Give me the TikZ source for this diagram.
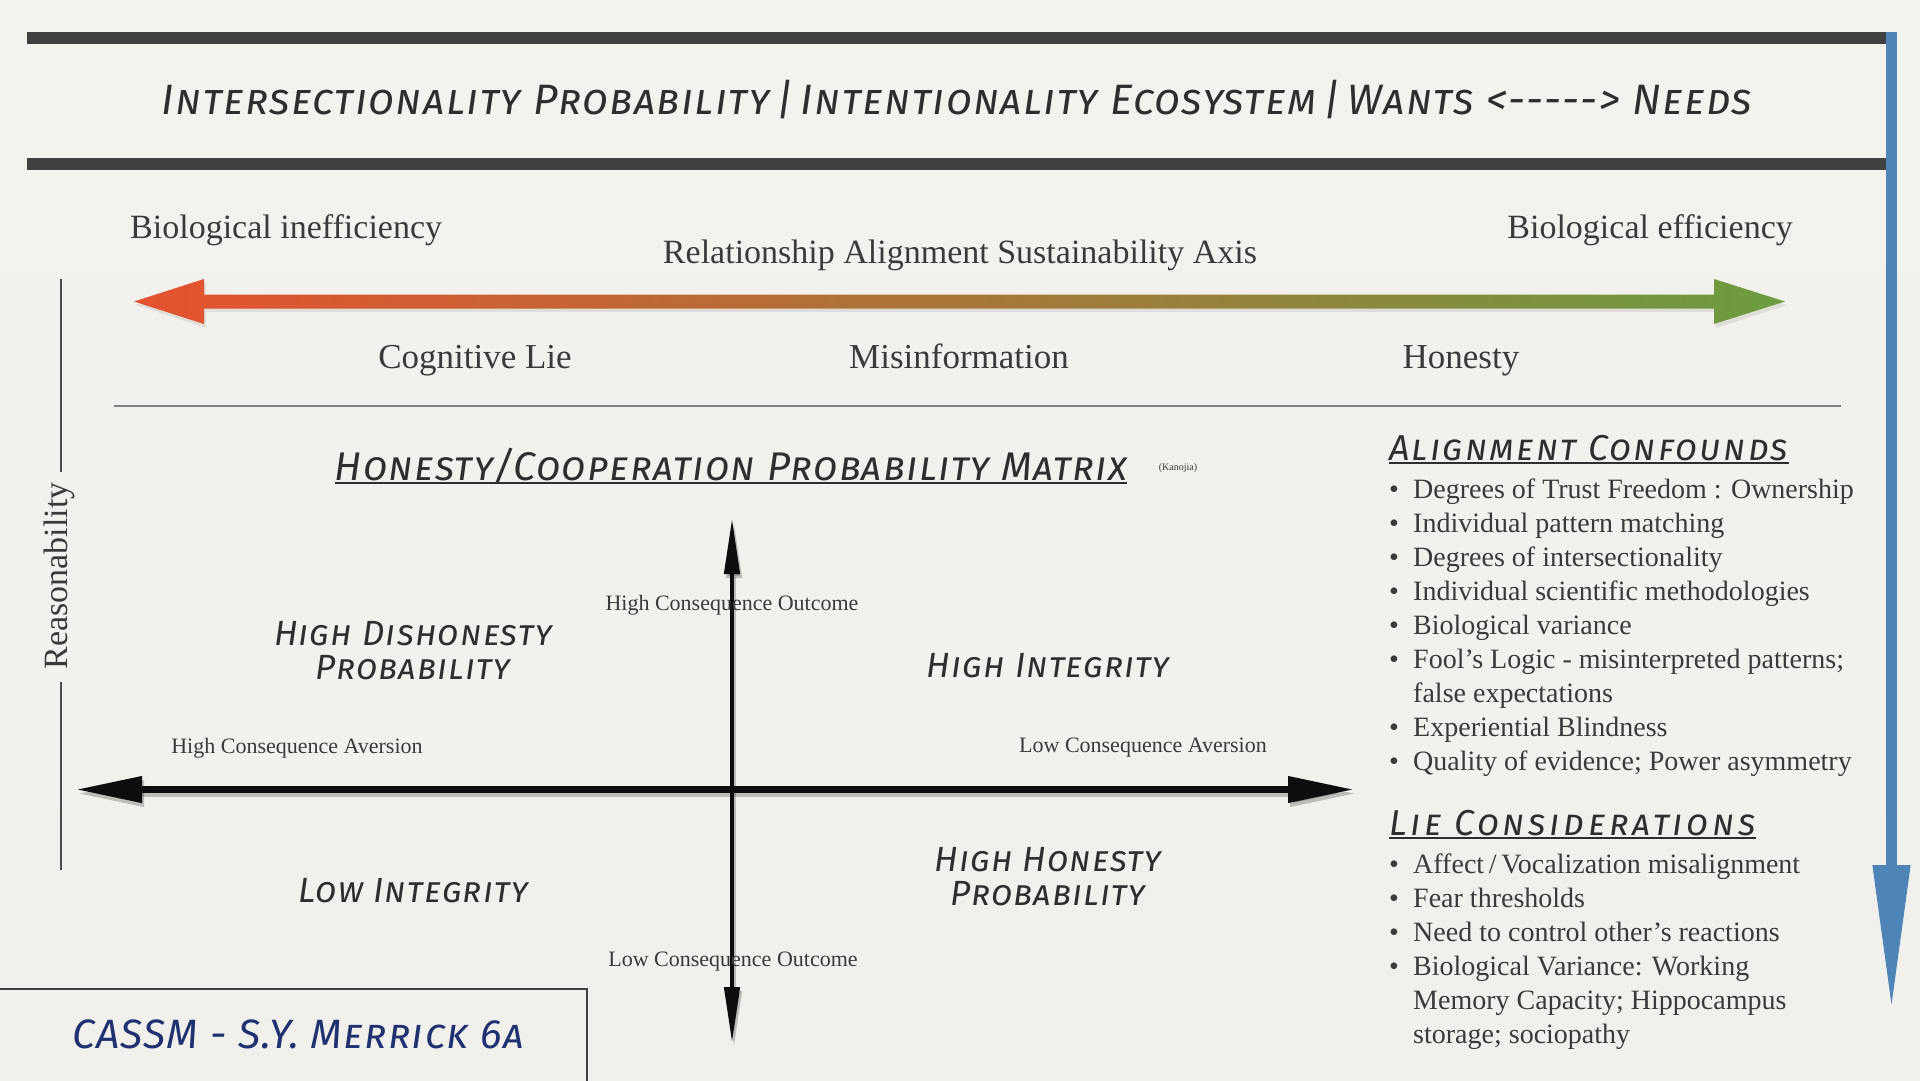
\documentclass[tikz,border=0pt]{standalone}
\usepackage{fontspec}
\setmainfont{Liberation Serif}
\newfontfamily\hand{Fira Sans}[Letters=SmallCaps,LetterSpace=3]
\newfontfamily\handwide{Fira Sans}[Letters=SmallCaps,LetterSpace=6]
\newfontfamily\handwider{Fira Sans}[Letters=SmallCaps,LetterSpace=10]
\usetikzlibrary{arrows.meta}
\definecolor{txt}{HTML}{3A3A3A}
\definecolor{hnd}{HTML}{2E2E2E}
\definecolor{barc}{HTML}{404040}
\definecolor{navy}{HTML}{1F3170}
\definecolor{blu}{HTML}{4F85B6}
\definecolor{bgA}{HTML}{F3F2EE}
\definecolor{bgB}{HTML}{E7E7E5}
\definecolor{bgC}{HTML}{F1F0EC}
\definecolor{grL}{HTML}{E5512F}
\definecolor{grM}{HTML}{A97A3A}
\definecolor{grR}{HTML}{6C9C40}
\tikzset{
  lbl/.style={font=\fontsize{34}{40}\selectfont, text=txt, inner sep=0pt},
  lblb/.style={font=\fontsize{35}{40}\selectfont, text=txt, inner sep=0pt, anchor=base},
  small/.style={font=\fontsize{22}{26}\selectfont, text=txt, inner sep=0pt},
  item/.style={font=\fontsize{28}{34}\selectfont, text=txt, inner sep=0pt, anchor=west, text height=20pt, text depth=7pt},
  hw/.style={font=\hand\itshape\fontsize{35}{34}\selectfont, text=hnd, inner sep=0pt, align=center},
  hwhead/.style={font=\handwide\itshape\fontsize{36}{36}\selectfont, text=hnd, inner xsep=0pt, inner ysep=2pt, text depth=0pt},
  uline/.style={draw=hnd, line width=2pt},
  blackarrow/.style={draw=black!95, line width=#1},
  shadowarrow/.style={draw=black, opacity=0.22, line width=#1, transform canvas={xshift=2pt,yshift=-4pt}},
  thinrule/.style={draw=black!50, line width=1.5pt},
  sideline/.style={draw=black!70, line width=1.5pt},
}
\begin{document}
\begin{tikzpicture}[x=1pt,y=-1pt]
\useasboundingbox (0,0) rectangle (1920,1080);
\shade[top color=bgA, middle color=bgB, bottom color=bgC] (0,0) rectangle (1920,1080);

% header bars
\fill[barc] (27,32) rectangle (1886,44);
\fill[barc] (27,158) rectangle (1886,170);

% blue vertical arrow
\coordinate (bt) at (1891.5,32);
\coordinate (bb) at (1891.5,1010);
\draw[draw=blu, line width=11pt, -{Triangle[length=145pt,width=35pt]}] (bt) -- (bb);

% title
\node[font=\hand\itshape\fontsize{42.5}{44}\selectfont, text=hnd, inner sep=0pt] (title) at (957,100)
  {Intersectionality Probability\,|\,Intentionality Ecosystem\,|\,Wants <{-}{-}{-}{-}{-}> Needs};

% axis labels
\node[lbl, anchor=west] (binef) at (130,230) {Biological inefficiency};
\node[lbl, anchor=east] (beff) at (1793,230) {Biological efficiency};
\node[lbl] (rasa) at (960,255) {Relationship Alignment Sustainability Axis};

% gradient arrow (soft shadow, then body)
\fill[black, opacity=0.08] (136,305) -- (206,283) -- (206,298) -- (1716,298) -- (1716,283) -- (1787,305)
  -- (1716,328) -- (1716,312) -- (206,312) -- (206,328) -- cycle;
\shade[left color=grL, middle color=grM, right color=grR]
  (134,301.5) -- (204,279) -- (204,294.5) -- (1714,294.5) -- (1714,279) -- (1785,301.5)
  -- (1714,324) -- (1714,308.5) -- (204,308.5) -- (204,324) -- cycle;

\node[lblb] (cog) at (475,368) {Cognitive Lie};
\node[lblb] (mis) at (959,368) {Misinformation};
\node[lblb] (hon) at (1461,368) {Honesty};

\draw[thinrule] (114,406) -- (1841,406);

% reasonability
\node[lbl, rotate=90] (reas) at (59,576) {Reasonability};
\draw[sideline] (61,279) -- (61,472);
\draw[sideline] (61,682) -- (61,870);

% matrix title
\node[hwhead, font=\hand\itshape\fontsize{40}{40}\selectfont, anchor=south] (mt) at (731,483) {Honesty/Cooperation Probability Matrix};
\draw[uline] (mt.south west) -- (mt.south east);
\node[font=\fontsize{10}{12}\selectfont, text=txt, inner sep=0pt] (kan) at (1178,468) {(Kanojia)};

% matrix axes
\coordinate (vt) at (732,518);
\coordinate (vb) at (732,1043);
\coordinate (hl) at (76,789.5);
\coordinate (hr) at (1354,789.5);
\draw[shadowarrow=7pt, {Triangle[length=66pt,width=25pt]}-{Triangle[length=66pt,width=25pt]}] (hl) -- (hr);
\draw[shadowarrow=4.5pt, {Triangle[length=56pt,width=15pt]}-{Triangle[length=56pt,width=15pt]}] (vt) -- (vb);
\draw[blackarrow=7pt, {Triangle[length=66pt,width=25pt]}-{Triangle[length=66pt,width=25pt]}] (hl) -- (hr);
\draw[blackarrow=4.5pt, {Triangle[length=56pt,width=15pt]}-{Triangle[length=56pt,width=15pt]}] (vt) -- (vb);

\node[small] (hco) at (732,605) {High Consequence Outcome};
\node[small] (lco) at (733,962) {Low Consequence Outcome};
\node[small] (hca) at (297,748) {High Consequence Aversion};
\node[small] (lca) at (1143,748) {Low Consequence Aversion};

% quadrants
\node[hw] (q1) at (413,651) {High Dishonesty\\Probability};
\node[hw] (q2) at (1048,666) {High Integrity};
\node[hw] (q3) at (413,891) {Low Integrity};
\node[hw] (q4) at (1048,877) {High Honesty\\Probability};

% alignment confounds
\node[hwhead, anchor=south west] (ach) at (1389,463) {Alignment Confounds};
\draw[uline] (ach.south west) -- (ach.south east);
\node[item] (a1) at (1389,492) {\makebox[24pt][l]{•}Degrees of Trust Freedom : Ownership};
\node[item] (a2) at (1389,526) {\makebox[24pt][l]{•}Individual pattern matching};
\node[item] (a3) at (1389,560) {\makebox[24pt][l]{•}Degrees of intersectionality};
\node[item] (a4) at (1389,594) {\makebox[24pt][l]{•}Individual scientific methodologies};
\node[item] (a5) at (1389,628) {\makebox[24pt][l]{•}Biological variance};
\node[item] (a6) at (1389,662) {\makebox[24pt][l]{•}Fool’s Logic - misinterpreted patterns;};
\node[item] (a6b) at (1389,696) {\hspace*{24pt}false expectations};
\node[item] (a7) at (1389,730) {\makebox[24pt][l]{•}Experiential Blindness};
\node[item] (a8) at (1389,764) {\makebox[24pt][l]{•}Quality of evidence; Power asymmetry};

% lie considerations
\node[hwhead, font=\handwider\itshape\fontsize{36}{36}\selectfont, anchor=south west] (lch) at (1389,838) {Lie Considerations};
\draw[uline] (lch.south west) -- (lch.south east);
\node[item] (l1) at (1389,867) {\makebox[24pt][l]{•}Affect\,/\,Vocalization misalignment};
\node[item] (l2) at (1389,901) {\makebox[24pt][l]{•}Fear thresholds};
\node[item] (l3) at (1389,935) {\makebox[24pt][l]{•}Need to control other’s reactions};
\node[item] (l4) at (1389,969) {\makebox[24pt][l]{•}Biological Variance: Working};
\node[item] (l4b) at (1389,1003) {\hspace*{24pt}Memory Capacity; Hippocampus};
\node[item] (l4c) at (1389,1037) {\hspace*{24pt}storage; sociopathy};

% signature box
\draw[draw=black!75, line width=2pt] (-5,989) -- (587,989) -- (587,1085);
\node[font=\hand\itshape\fontsize{41}{44}\selectfont, text=navy, inner sep=0pt] (sig) at (298,1034) {CASSM - S.Y. Merrick 6a};
\end{tikzpicture}
\end{document}
